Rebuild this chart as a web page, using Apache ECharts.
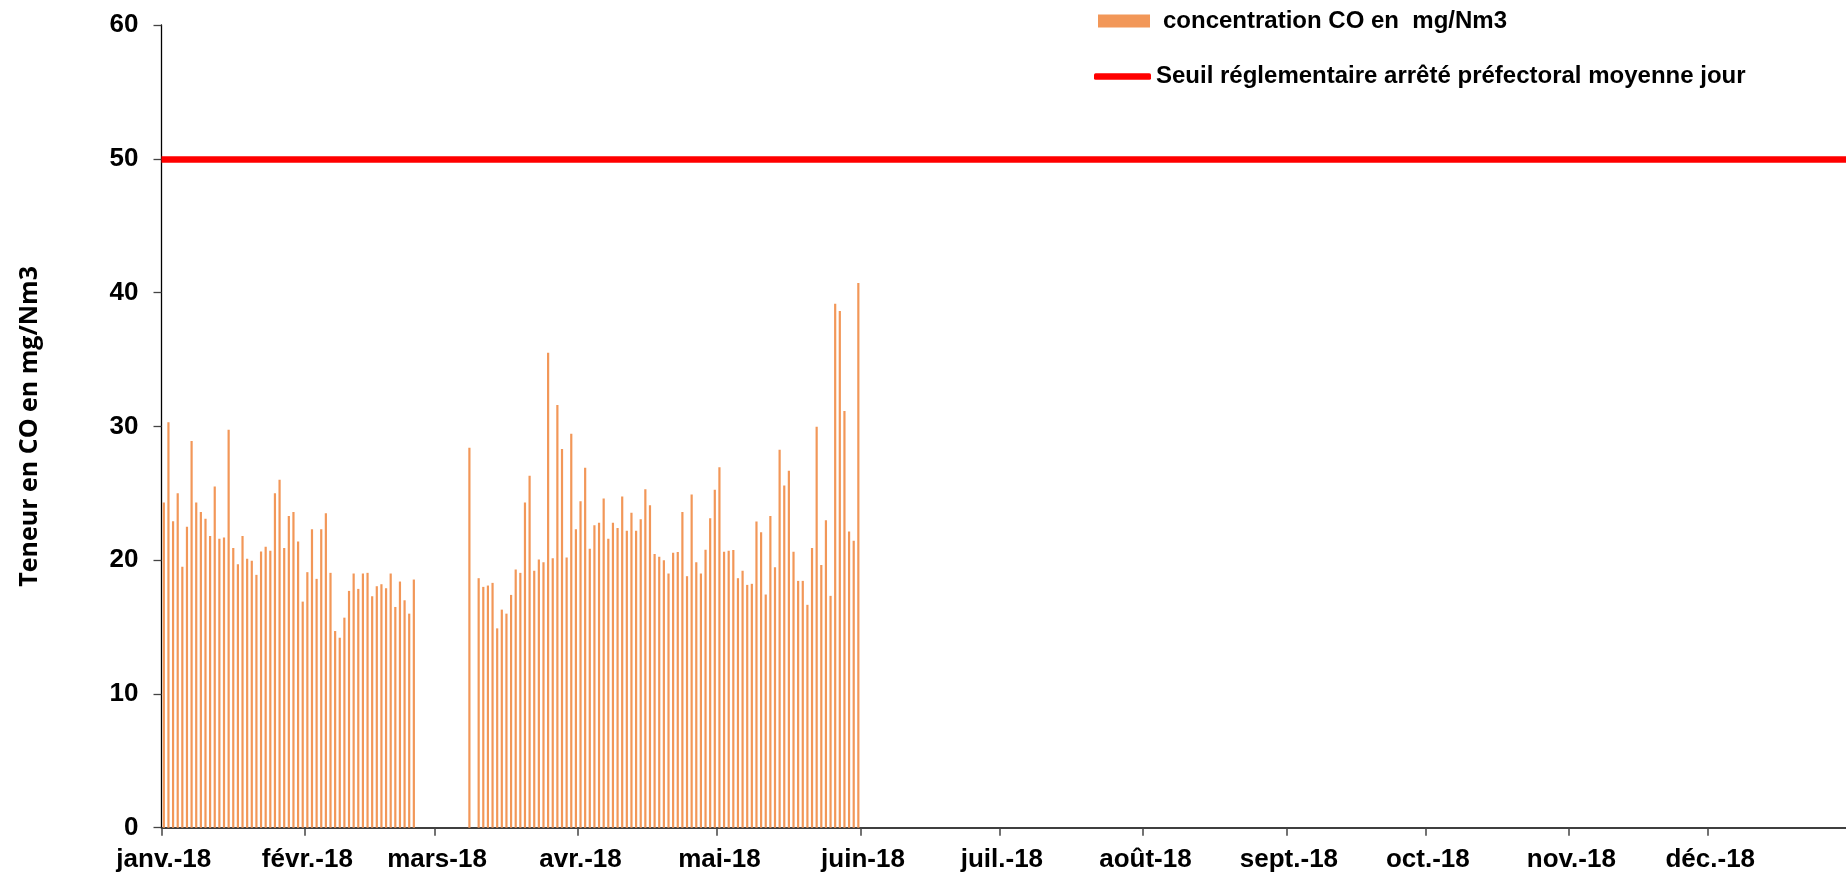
<!DOCTYPE html>
<html>
<head>
<meta charset="utf-8">
<script src="https://cdn.jsdelivr.net/npm/echarts@6/dist/echarts.min.js"></script>
<style>
html,body{margin:0;padding:0;background:#fff;}
#chart{width:1846px;height:877px;}
</style>
</head>
<body>
<div id="chart"></div>
<script>
// ---- data (daily CO concentration, mg/Nm3, year 2018) ----
const jan = [24.3, 30.3, 22.9, 25.0, 19.5, 22.5, 28.9, 24.3, 23.6, 23.1, 21.8, 25.5, 21.6, 21.7, 29.75, 20.9,
             19.7, 21.8, 20.1, 19.95, 18.9, 20.65, 21.0, 20.7, 25.0, 26.0, 20.9, 23.3, 23.6, 21.4, 16.9];
const feb = [19.1, 22.3, 18.6, 22.3, 23.5, 19.05, 14.7, 14.2, 15.7, 17.7, 19.0, 17.85, 19.0, 19.05, 17.3, 18.05,
             18.2, 17.9, 19.0, 16.5, 18.4, 17.0, 16.0, 18.55, null, null, null, null];
const mar = [null, null, null, null, null, null, null, 28.4, null, 18.65, 18.0, 18.1, 18.3, 14.9, 16.3, 16.0,
             17.4, 19.3, 19.05, 24.3, 26.3, 19.2, 20.05, 19.85, 35.5, 20.15, 31.6, 28.3, 20.2, 29.45, 22.3];
const apr = [24.4, 26.9, 20.85, 22.6, 22.8, 24.6, 21.6, 22.8, 22.4, 24.75, 22.2, 23.55, 22.2, 23.05, 25.3,
             24.1, 20.45, 20.25, 20.0, 19.0, 20.55, 20.6, 23.6, 18.8, 24.9, 19.85, 19.0, 20.77, 23.14, 25.26];
const may = [26.95, 20.62, 20.7, 20.75, 18.65, 19.2, 18.15, 18.23, 22.89, 22.09, 17.43, 23.29, 19.47, 28.25,
             25.58, 26.68, 20.62, 18.45, 18.45, 16.66, 20.9, 29.97, 19.63, 22.99, 17.33, 39.17, 38.62, 31.14,
             22.14, 21.44, 40.72];
const THRESHOLD = 50;
const monthLabels = ['janv.-18', 'févr.-18', 'mars-18', 'avr.-18', 'mai-18', 'juin-18',
                     'juil.-18', 'août-18', 'sept.-18', 'oct.-18', 'nov.-18', 'déc.-18'];
const yTicks = {min: 0, max: 60, interval: 10};
const seriesNames = ['concentration CO en  mg/Nm3', 'Seuil réglementaire arrêté préfectoral moyenne jour'];

// ---- categories: every day of 2018 ----
const days = [];
const monthStart = {};
for (let m = 0; m < 12; m++) {
  const n = new Date(Date.UTC(2018, m + 1, 0)).getUTCDate();
  monthStart[days.length] = monthLabels[m];
  for (let d = 1; d <= n; d++) {
    days.push('2018-' + String(m + 1).padStart(2, '0') + '-' + String(d).padStart(2, '0'));
  }
}
const measured = [].concat(jan, feb, mar, apr, may);
const barData = days.map((d, i) => (i < measured.length ? measured[i] : null));

const isMonthStart = (idx) => monthStart[idx] !== undefined;

const chart = echarts.init(document.getElementById('chart'), null, {renderer: 'canvas'});
chart.setOption({
  animation: false,
  backgroundColor: '#ffffff',
  grid: {left: 161.5, right: -5.5, top: 25, bottom: 49.3, outerBoundsMode: 'none', containLabel: false},
  legend: [
    {
      data: [seriesNames[0]],
      left: 1098, top: 9, padding: 0,
      itemWidth: 52, itemHeight: 13,
      icon: 'rect',
      selectedMode: false,
      textStyle: {fontFamily: 'Liberation Sans, Arial, sans-serif', fontWeight: 'bold', fontSize: 24,
                  color: '#000', padding: [0, 0, 0, 8]}
    },
    {
      data: [seriesNames[1]],
      left: 1094, top: 64.5, padding: 0,
      itemWidth: 57, itemHeight: 6.5,
      icon: 'roundRect',
      selectedMode: false,
      itemStyle: {color: '#FF0000'},
      textStyle: {fontFamily: 'Liberation Sans, Arial, sans-serif', fontWeight: 'bold', fontSize: 24,
                  color: '#000'}
    }
  ],
  xAxis: {
    type: 'category',
    data: days,
    boundaryGap: true,
    axisLine: {show: true, lineStyle: {color: '#000', width: 1.6}},
    axisTick: {show: true, length: 8, interval: (idx) => isMonthStart(idx),
               lineStyle: {color: '#444', width: 1.5}},
    axisLabel: {
      interval: (idx) => isMonthStart(idx),
      formatter: (val, idx) => monthStart[idx] || '',
      margin: 19,
      fontFamily: 'Liberation Sans, Arial, sans-serif', fontWeight: 'bold', fontSize: 26, color: '#000'
    },
    splitLine: {show: false}
  },
  yAxis: {
    type: 'value',
    min: yTicks.min, max: yTicks.max, interval: yTicks.interval,
    name: 'Teneur en CO en mg/Nm3',
    nameLocation: 'middle',
    nameGap: 119,
    nameTextStyle: {fontFamily: 'Open Sans, sans-serif', fontWeight: 'bold', fontSize: 25, color: '#000'},
    axisLine: {show: true, lineStyle: {color: '#000', width: 1.3}},
    axisTick: {show: true, length: 8, lineStyle: {color: '#444', width: 1.3}},
    axisLabel: {margin: 23, fontFamily: 'Liberation Sans, Arial, sans-serif', fontWeight: 'bold',
                fontSize: 26, color: '#000'},
    splitLine: {show: false}
  },
  series: [
    {
      name: seriesNames[0],
      type: 'bar',
      data: barData,
      barWidth: 2.2,
      itemStyle: {color: '#F29758'},
      silent: true
    },
    {
      name: seriesNames[1],
      type: 'line',
      data: [],
      color: '#FF0000',
      symbol: 'none',
      lineStyle: {color: '#FF0000', width: 6.5},
      markLine: {
        silent: true,
        symbol: ['none', 'none'],
        label: {show: false},
        lineStyle: {color: '#FF0000', width: 6.5, type: 'solid'},
        emphasis: {disabled: true},
        data: [{yAxis: THRESHOLD}]
      }
    }
  ]
});
</script>
</body>
</html>
